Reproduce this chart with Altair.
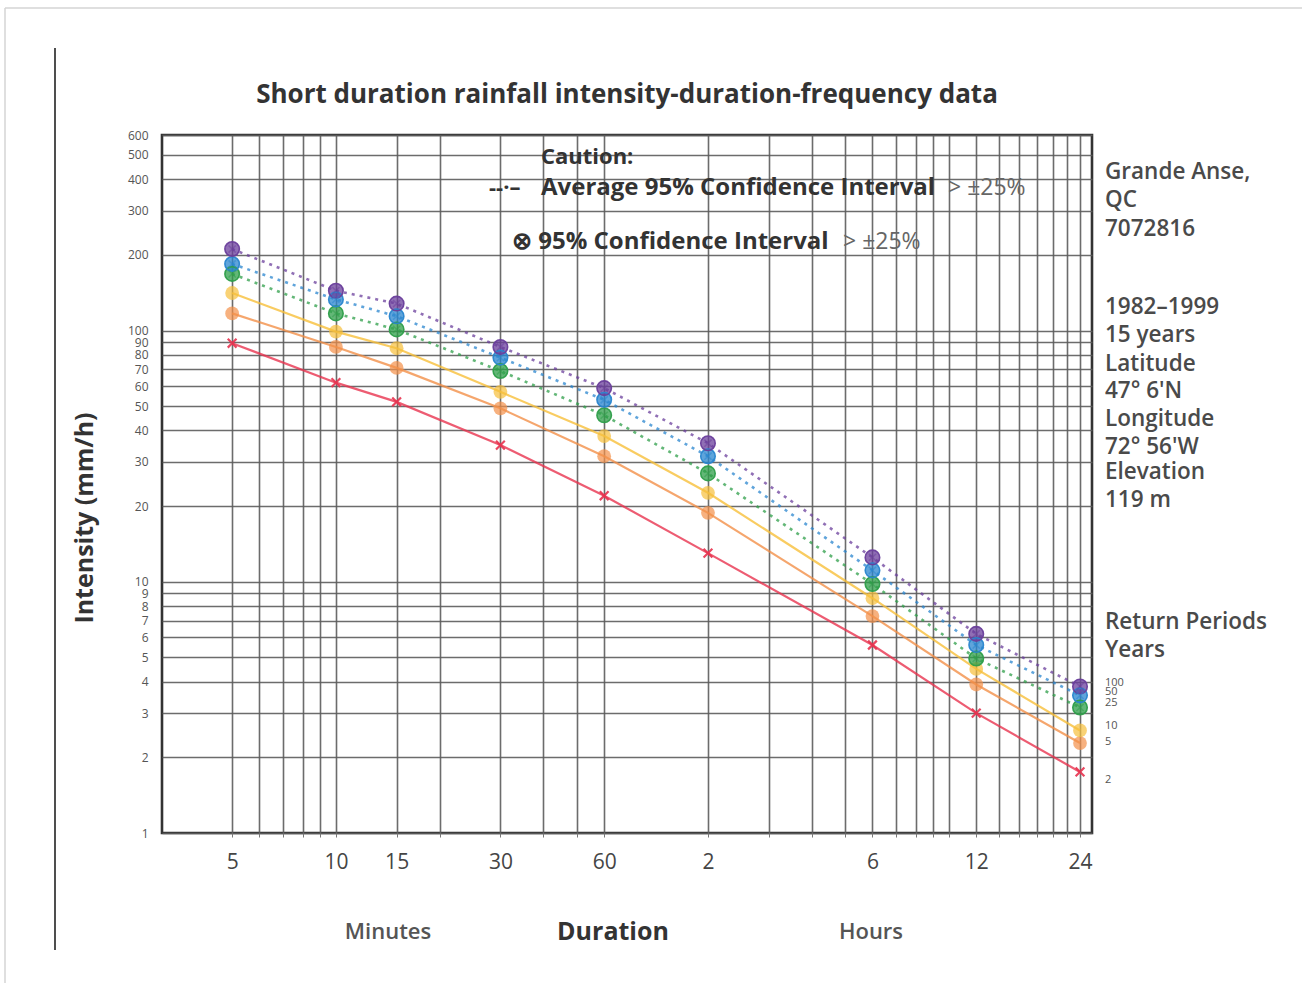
import altair as alt
import pandas as pd

# Durations in minutes (5 min ... 24 h)
durations = [5, 10, 15, 30, 60, 120, 360, 720, 1440]

# Return periods (years) and their intensities in mm/h
periods = ["2", "5", "10", "25", "50", "100"]
i_2 = [89, 62, 52, 35, 22, 13.0, 5.6, 3.0, 1.75]
i_5 = [117, 86, 71, 49, 31.6, 18.8, 7.3, 3.9, 2.28]
i_10 = [141, 99, 85, 57, 38, 22.6, 8.6, 4.5, 2.56]
i_25 = [168, 117, 101, 69, 46, 27.0, 9.8, 4.95, 3.16]
i_50 = [184, 133, 114, 78, 53, 31.6, 11.1, 5.6, 3.53]
i_100 = [211, 144, 128, 86, 59, 35.6, 12.5, 6.2, 3.83]

colors = ["#e8334f", "#f39048", "#f7bf3a", "#2f9f4a", "#2a86cf", "#6b3f9c"]

# Grid positions
x_grid = [5, 6, 7, 8, 9, 10, 15, 20, 30, 40, 50, 60,
          120, 180, 240, 300, 360, 420, 480, 540, 600,
          720, 840, 960, 1080, 1200, 1320, 1440]
y_grid = [1, 2, 3, 4, 5, 6, 7, 8, 9, 10, 20, 30, 40, 50, 60, 70, 80, 90,
          100, 200, 300, 400, 500, 600]
x_label_minutes = [5, 10, 15, 30, 60]
x_label_hours = [120, 360, 720, 1440]

series = {"2": i_2, "5": i_5, "10": i_10, "25": i_25, "50": i_50, "100": i_100}
rows = []
for p, vals in series.items():
    for d, v in zip(durations, vals):
        rows.append({"period": p, "duration": d, "intensity": v,
                     "wide_ci": p in ("25", "50", "100")})
df = pd.DataFrame(rows)

W, H = 930, 698
FONT = "Open Sans"
TXT = "#454545"

x_enc = alt.X(
    "duration:Q",
    scale=alt.Scale(type="log", domain=[3.13, 1560], nice=False),
    axis=alt.Axis(
        values=x_grid, title=None, grid=True, gridColor="#5c5c5c", gridWidth=1.6,
        gridOpacity=0.9, domain=False, ticks=True, tickSize=4, tickColor="#777",
        labelExpr=(
            f"indexof({x_label_minutes}, datum.value) >= 0 ? format(datum.value, 'd') : "
            f"(indexof({x_label_hours}, datum.value) >= 0 ? format(datum.value / 60, 'd') : '')"
        ),
        labelFont=FONT, labelFontSize=21, labelColor=TXT, labelPadding=14,
        labelOverlap=False, labelFlush=False, labelBound=False,
    ),
)
y_enc = alt.Y(
    "intensity:Q",
    scale=alt.Scale(type="log", domain=[1, 600], nice=False),
    axis=alt.Axis(
        values=y_grid, title=None, grid=True, gridColor="#5c5c5c", gridWidth=1.6,
        gridOpacity=0.9, domain=False, ticks=False, format="d",
        labelFont=FONT, labelFontSize=12, labelColor="#555", labelPadding=14,
        labelOverlap=False, labelFlush=False, labelBound=False,
    ),
)
color_enc = alt.Color("period:N", scale=alt.Scale(domain=periods, range=colors), legend=None)

base = alt.Chart(df).encode(x=x_enc, y=y_enc, color=color_enc)

solid_lines = base.transform_filter("!datum.wide_ci").mark_line(
    strokeWidth=2.2, opacity=0.8)
dotted_lines = base.transform_filter("datum.wide_ci").mark_line(
    strokeWidth=2.6, strokeDash=[3, 5], opacity=0.75)

X_PATH = "M-0.8,-0.8L0.8,0.8M-0.8,0.8L0.8,-0.8"

red_marks = base.transform_filter("datum.period == '2'").mark_point(
    shape=X_PATH, filled=False, size=120, strokeWidth=2.2, opacity=0.9)
dot_marks = base.transform_filter("datum.period == '5' || datum.period == '10'").mark_point(
    shape="circle", filled=True, size=190, opacity=0.7)
ci_circles = base.transform_filter("datum.wide_ci").mark_point(
    shape="circle", filled=True, size=210, opacity=0.75)
ci_rings = base.transform_filter("datum.wide_ci").mark_point(
    shape="circle", filled=False, size=210, strokeWidth=1.6, opacity=0.95)
ci_crosses = base.transform_filter("datum.wide_ci").mark_point(
    shape=X_PATH, filled=False, size=80, strokeWidth=1.5, color="#ffffff", opacity=0.5)

layers = [solid_lines, dotted_lines, dot_marks, ci_circles, ci_rings, ci_crosses, red_marks]


def label(text, x, y, size=20, weight="bold", color=TXT, align="left",
          angle=0, baseline="middle", font=FONT):
    kw = dict(align=align, baseline=baseline, fontSize=size, fontWeight=weight,
              color=color, font=font)
    if angle:
        kw["angle"] = angle
    return alt.Chart(pd.DataFrame({"t": [text]})).mark_text(**kw).encode(
        text="t:N", x=alt.value(x), y=alt.value(y))


# Title and axis captions
layers.append(label("Short duration rainfall intensity-duration-frequency data",
                    465, -40, size=26, color="#333", align="center"))
layers.append(label("Intensity (mm/h)", -77, 383, size=25, color="#333",
                    align="center", angle=270))
layers.append(label("Minutes", 226, 797, size=22, weight=600, color="#555", align="center"))
layers.append(label("Duration", 451, 797, size=25, weight="bold", color="#333", align="center"))
layers.append(label("Hours", 709, 797, size=22, weight=600, color="#555", align="center"))

# Caution note inside the plot
layers.append(label("Caution:", 379, 22, size=22, color="#333"))
layers.append(label("--·–", 327, 53, size=22, color="#333"))
layers.append(label("Average 95% Confidence Interval", 379, 53, size=24, color="#333"))
layers.append(label("> ±25%", 786, 53, size=23, weight="normal", color="#666"))
layers.append(label("⊗ 95% Confidence Interval", 350, 107, size=24, color="#333"))
layers.append(label("> ±25%", 681, 107, size=23, weight="normal", color="#666"))

# Station description on the right
station = [("Grande Anse,", 37), ("QC", 65), ("7072816", 94),
           ("1982–1999", 172), ("15 years", 200), ("Latitude", 229),
           ("47° 6'N", 256), ("Longitude", 284), ("72° 56'W", 312),
           ("Elevation", 337), ("119 m", 365),
           ("Return Periods", 487), ("Years", 515)]
for text, yy in station:
    layers.append(label(text, 943, yy, size=22.5, weight=600, color="#4a4a4a"))

rp_labels = [("100", 548), ("50", 557), ("25", 568), ("10", 591), ("5", 607), ("2", 645)]
for text, yy in rp_labels:
    layers.append(label(text, 943, yy, size=11, weight="normal", color="#555"))

# Page decorations: binding rule and outer frame
rule_df = pd.DataFrame({"k": [0]})
layers.append(alt.Chart(rule_df).mark_rule(color="#222", strokeWidth=1.6).encode(
    x=alt.value(-107), y=alt.value(-87), y2=alt.value(815)))
layers.append(alt.Chart(rule_df).mark_rule(color="#d4d4d4", strokeWidth=1.5).encode(
    x=alt.value(-157), x2=alt.value(1140), y=alt.value(-127)))
layers.append(alt.Chart(rule_df).mark_rule(color="#d4d4d4", strokeWidth=1.5).encode(
    x=alt.value(-157), y=alt.value(-127), y2=alt.value(848)))

chart = alt.layer(*layers).properties(
    width=W, height=H,
    autosize=alt.AutoSizeParams(type="none"),
    padding={"left": 162, "top": 135, "right": 213, "bottom": 153},
    background="#ffffff",
).configure_view(stroke="#333333", strokeWidth=2.6)

chart.save("out.html", embed_options={"renderer": "svg", "actions": False})
